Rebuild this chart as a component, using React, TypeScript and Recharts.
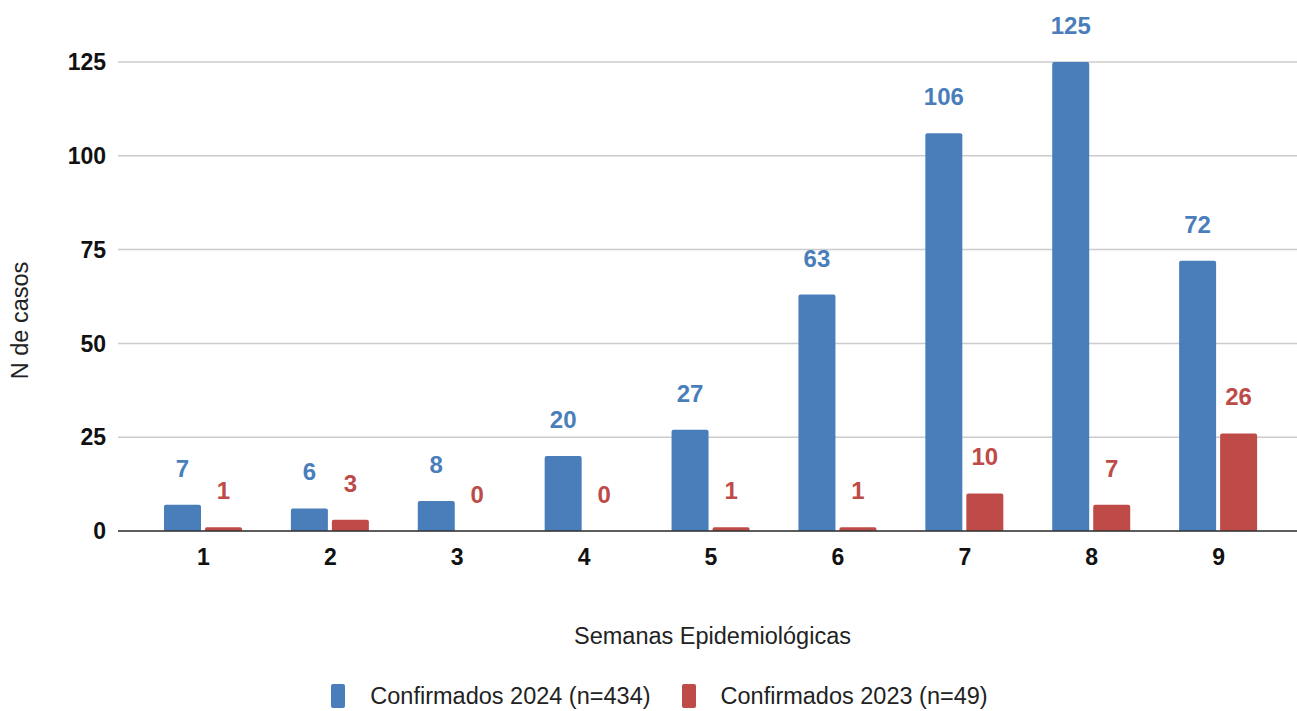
import { Bar, BarChart, CartesianGrid, LabelList, Legend, XAxis, YAxis } from "recharts";

const weeks = ["1", "2", "3", "4", "5", "6", "7", "8", "9"];
const confirmed2024 = [7, 6, 8, 20, 27, 63, 106, 125, 72];
const confirmed2023 = [1, 3, 0, 0, 1, 1, 10, 7, 26];
const yTicks = [0, 25, 50, 75, 100, 125];

const series = [
  { key: "c2024", name: "Confirmados 2024 (n=434)", color: "#4A7EBB" },
  { key: "c2023", name: "Confirmados 2023 (n=49)", color: "#BE4B48" },
];

const data = weeks.map((w, i) => ({ week: w, c2024: confirmed2024[i], c2023: confirmed2023[i] }));

const FONT = "'Liberation Sans', Arial, sans-serif";

function YTitle({ viewBox }: any) {
  const cx = 20;
  const cy = viewBox.y + viewBox.height / 2 + 24;
  return (
    <text x={cx} y={cy} transform={`rotate(-90 ${cx} ${cy})`} textAnchor="middle" dominantBaseline="central"
      fontFamily={FONT} fontSize={23.5} fill="#222">
      N de casos
    </text>
  );
}

function XTitle({ viewBox }: any) {
  const cx = viewBox.x + viewBox.width / 2 + 5;
  return (
    <text x={cx} y={viewBox.y + 113} textAnchor="middle" fontFamily={FONT} fontSize={23.5} fill="#222">
      Semanas Epidemiológicas
    </text>
  );
}

function LegendBox() {
  return (
    <div style={{ display: "flex", justifyContent: "center", alignItems: "center", height: 30, paddingLeft: 22, fontFamily: FONT, fontSize: 23.5, color: "#222" }}>
      {series.map((s, i) => (
        <div key={s.key} style={{ display: "flex", alignItems: "center", marginLeft: i ? 31 : 0 }}>
          <span style={{ display: "inline-block", width: 14, height: 24, background: s.color, borderRadius: 2, marginRight: 25 }} />
          <span>{s.name}</span>
        </div>
      ))}
    </div>
  );
}

function BarValue(props: any) {
  const { x, y, width, value, fill } = props;
  if (value == null) return null;
  return (
    <text x={x + width / 2} y={y - 28} textAnchor="middle" fill={fill}
      fontFamily={FONT} fontSize={24} fontWeight={700}>
      {value}
    </text>
  );
}

export default function App() {
  return (
    <div style={{ position: "absolute", left: 0, top: 0, background: "#fff" }}>
      <BarChart width={1297} height={711} data={data} margin={{ top: 62, right: 0, bottom: 50, left: 0 }}
        barSize={37} barGap={4}>
        <CartesianGrid vertical={false} stroke="#cccccc" strokeWidth={1.5} />
        <XAxis dataKey="week" height={100} padding={{ left: 22, right: 15 }} tickLine={false}
          axisLine={{ stroke: "#333", strokeWidth: 1.5 }} tickMargin={12}
          tick={{ fontFamily: FONT, fontSize: 23, fontWeight: 700, fill: "#111" }}
          label={<XTitle />} />
        <YAxis width={118} domain={[0, 125]} ticks={yTicks} axisLine={false} tickLine={false} tickMargin={6}
          tick={{ fontFamily: FONT, fontSize: 23, fontWeight: 700, fill: "#111" }}
          label={<YTitle />} />
        <Legend verticalAlign="bottom" height={30} content={<LegendBox />}
          wrapperStyle={{ left: 0, bottom: 0, width: 1297 }} />
        {series.map((s) => (
          <Bar key={s.key} dataKey={s.key} name={s.name} fill={s.color} radius={[2, 2, 0, 0]}
            minPointSize={0.01} isAnimationActive={false}>
            <LabelList dataKey={s.key} content={(p: any) => <BarValue {...p} fill={s.color} />} />
          </Bar>
        ))}
      </BarChart>
    </div>
  );
}
